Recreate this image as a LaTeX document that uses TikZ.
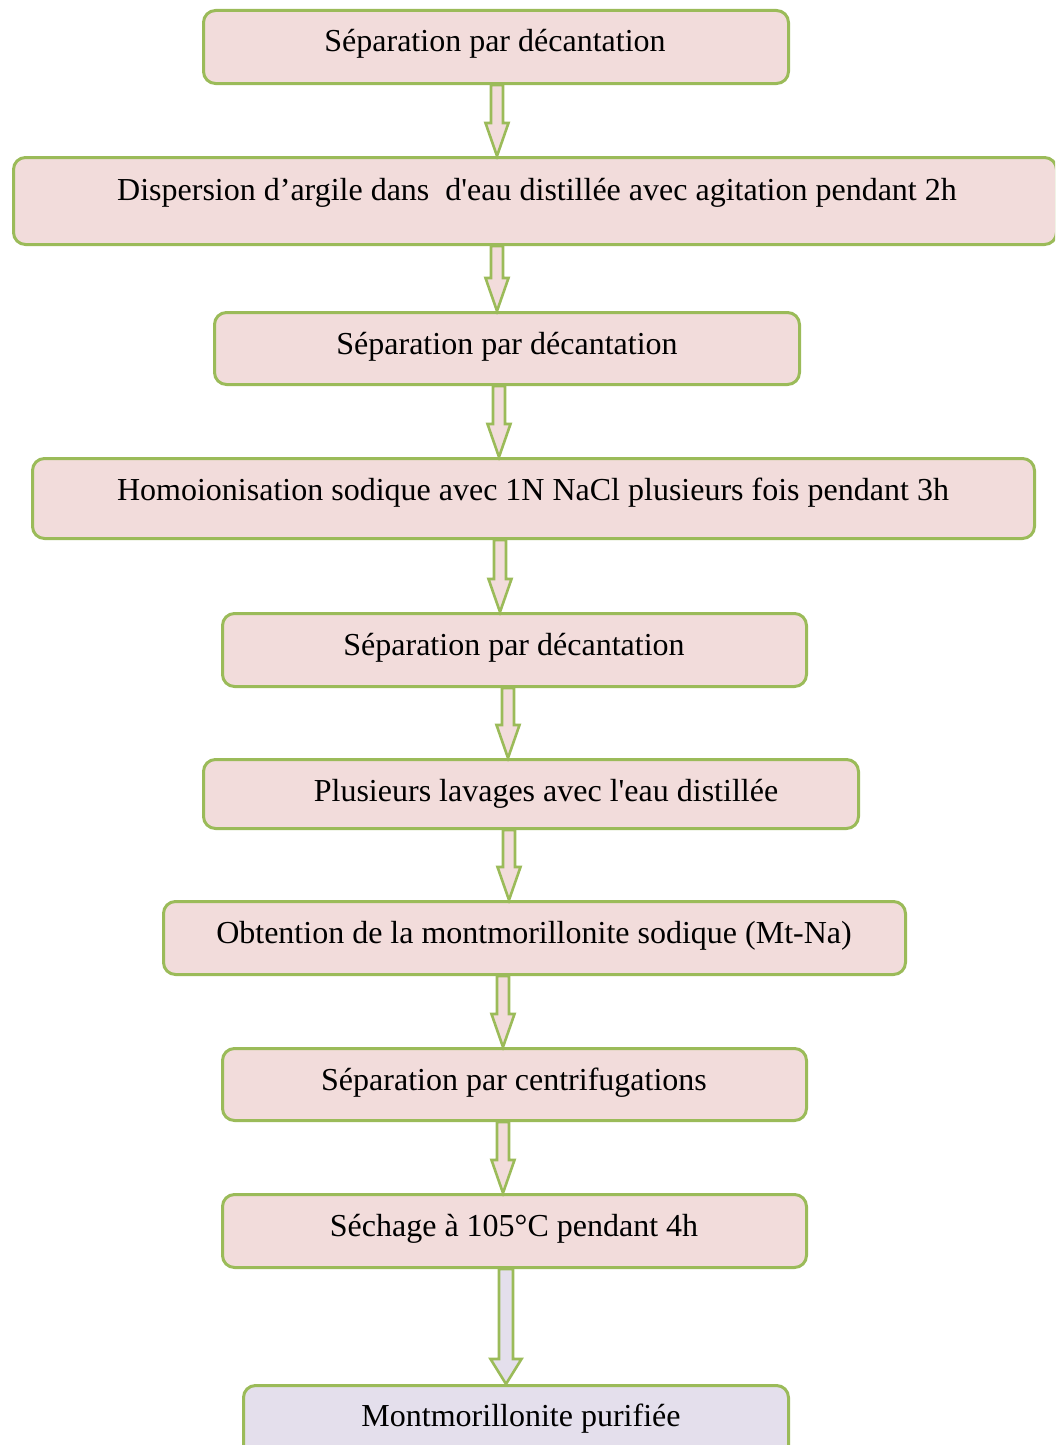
\documentclass[tikz,border=0pt]{standalone}
\usepackage{fontspec}
\setmainfont{Liberation Serif}
\usetikzlibrary{calc}
\definecolor{boxfill}{HTML}{F2DCDB}
\definecolor{boxline}{HTML}{9BBB59}
\definecolor{lastfill}{HTML}{E4DFEC}
\newcommand{\blockarr}[7]{%
  \filldraw[blockarrow,fill=#7] let \p1=(#2.south), \p2=(#3.north) in
    ({#1-#4},\y1) -- ({#1-#4},\y2+#6pt) -- ({#1-#5},\y2+#6pt) -- ({#1},\y2)
    -- ({#1+#5},\y2+#6pt) -- ({#1+#4},\y2+#6pt) -- ({#1+#4},\y1) -- cycle;}
\begin{document}
\begin{tikzpicture}[x=1pt,y=-1pt,
  stepbox/.style={draw=boxline, line width=3pt, fill=boxfill, rounded corners=12pt, inner sep=0pt},
  lbl/.style={font=\fontsize{32}{38}\selectfont, inner sep=0pt, anchor=base},
  blockarrow/.style={draw=boxline, line width=2.6pt, line join=miter}]
\useasboundingbox (0,0) rectangle (1055,1445);
\clip (0,0) rectangle (1055,1445);
% boxes
\node[stepbox, minimum width=585pt, minimum height=73pt] (b1) at (496,47) {};
\node[stepbox, minimum width=1043pt, minimum height=87pt] (b2) at (535,201) {};
\node[stepbox, minimum width=585pt, minimum height=72pt] (b3) at (507,348.5) {};
\node[stepbox, minimum width=1002pt, minimum height=80pt] (b4) at (533.5,498.5) {};
\node[stepbox, minimum width=584pt, minimum height=73pt] (b5) at (514.5,650) {};
\node[stepbox, minimum width=655pt, minimum height=69pt] (b6) at (531,794) {};
\node[stepbox, minimum width=742pt, minimum height=73pt] (b7) at (534.5,938) {};
\node[stepbox, minimum width=584pt, minimum height=72pt] (b8) at (514.5,1084.5) {};
\node[stepbox, minimum width=584pt, minimum height=73pt] (b9) at (514.5,1231) {};
\node[stepbox, fill=lastfill, minimum width=545pt, minimum height=73pt] (b10) at (516,1422) {};
% texts
\node[lbl] (t1) at (495,52) {Séparation par décantation};
\node[lbl] (t2) at (537,200) {Dispersion d’argile dans\ \ d\textquotesingle eau distillée avec agitation pendant 2h};
\node[lbl] (t3) at (507,354) {Séparation par décantation};
\node[lbl] (t4) at (533,500) {Homoionisation sodique avec 1N NaCl plusieurs fois pendant 3h};
\node[lbl] (t5) at (514,655) {Séparation par décantation};
\node[lbl] (t6) at (546,801) {Plusieurs lavages avec l\textquotesingle eau distillée};
\node[lbl] (t7) at (534,943) {Obtention de la montmorillonite sodique (Mt-Na)};
\node[lbl] (t8) at (514,1090) {Séparation par centrifugations};
\node[lbl] (t9) at (514,1236) {Séchage à 105°C pendant 4h};
\node[lbl] (t10) at (521,1426) {Montmorillonite purifiée};
% arrows
\blockarr{497}{b1}{b2}{6}{11.5}{33}{boxfill}
\blockarr{497}{b2}{b3}{6}{11.5}{33}{boxfill}
\blockarr{499}{b3}{b4}{6}{11.5}{33}{boxfill}
\blockarr{500}{b4}{b5}{6}{11.5}{33}{boxfill}
\blockarr{508}{b5}{b6}{6}{11.5}{33}{boxfill}
\blockarr{509}{b6}{b7}{6}{11.5}{33}{boxfill}
\blockarr{503}{b7}{b8}{6}{11.5}{33}{boxfill}
\blockarr{503}{b8}{b9}{6}{11.5}{33}{boxfill}
\blockarr{506}{b9}{b10}{7}{15.5}{25}{lastfill}
\end{tikzpicture}
\end{document}
